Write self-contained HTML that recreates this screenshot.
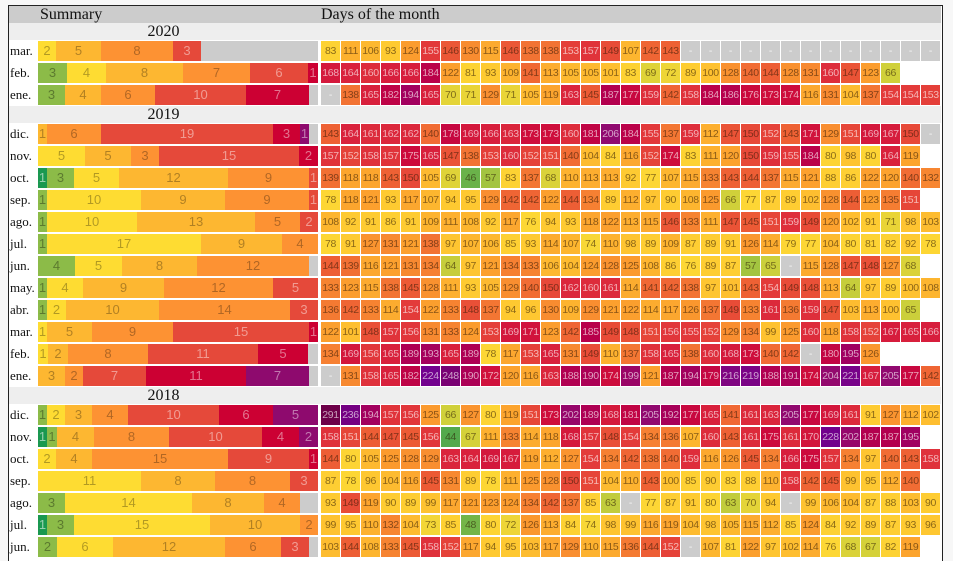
<!DOCTYPE html>
<html><head><meta charset="utf-8">
<style>
html,body{margin:0;padding:0;background:#f7f7f7;width:953px;height:561px;overflow:hidden;position:relative;font-family:"Liberation Sans",sans-serif}
#box{position:absolute;left:8px;top:5px;width:933px;height:560px;background:#fff;border-left:1px solid #222;border-top:1px solid #222;border-right:1px solid #222}
.a{position:absolute;box-sizing:border-box}
.c{width:19px;height:20px;font-size:10.5px;line-height:20px;text-align:center;letter-spacing:-0.3px}
.s{height:20px;font-size:13px;line-height:20px;text-align:center;overflow:hidden}
.ser{font-family:"Liberation Serif",serif}
</style></head><body>
<div id="box"></div>
<div id="root"></div>
<script>
var D={
"2020":[
["mar.","83 111 106 93 124 155 146 130 115 146 138 138 153 157 149 107 142 143 - - - - - - - - - - - - -","y2 l5 o8 r3 x13"],
["feb.","168 164 160 166 166 184 122 81 93 109 141 113 105 105 101 83 69 72 89 100 128 140 144 128 131 160 147 123 66","g3 y4 l8 o7 r6 c1"],
["ene.","- 138 165 182 194 165 70 71 129 71 105 119 163 145 187 177 159 142 158 184 186 176 173 174 116 131 104 137 154 154 153","g3 l4 o6 r10 c7 x1"]],
"2019":[
["dic.","143 164 161 162 162 140 178 169 166 163 173 173 160 181 206 184 155 137 159 112 147 150 152 143 171 129 151 169 167 150 -","l1 o6 r19 c3 p1 x1"],
["nov.","157 152 158 157 175 165 147 138 153 160 152 151 140 104 84 116 152 174 83 111 120 150 159 155 184 80 98 80 164 119","y5 l5 o3 r15 c2"],
["oct.","139 118 118 143 150 105 69 46 57 83 137 68 110 113 113 92 77 107 115 133 143 144 137 115 121 88 86 122 120 140 132","d1 g3 y5 l12 o9 r1"],
["sep.","78 118 121 93 117 107 94 95 129 142 142 122 144 134 89 112 97 90 108 125 66 77 87 89 102 128 144 123 135 151","g1 y10 l9 o9 r1"],
["ago.","108 92 91 86 91 109 111 108 92 117 76 94 93 118 122 113 115 146 133 111 147 145 151 159 149 120 102 91 71 98 103","g1 y10 l13 o5 r2"],
["jul.","78 91 127 131 121 138 97 107 106 85 93 114 107 74 110 98 89 109 87 89 91 126 114 79 77 104 80 81 82 92 78","g1 y17 l9 o4"],
["jun.","144 139 116 121 131 134 64 97 121 134 133 106 104 124 128 125 108 86 76 89 87 57 65 - 115 128 147 148 127 68","g4 y5 l8 o12 x1"],
["may.","133 123 115 138 145 128 111 93 105 129 140 150 162 160 161 114 141 142 138 97 101 143 154 149 148 113 64 97 89 100 108","g1 y4 l9 o12 r5"],
["abr.","136 142 133 114 154 122 133 148 137 94 96 130 109 129 121 122 114 117 126 137 149 133 161 136 159 147 103 113 100 65","g1 y2 l10 o14 r3"],
["mar.","122 101 148 157 156 131 133 124 153 169 171 123 142 185 149 148 151 156 155 152 129 134 99 125 160 118 158 152 167 165 166","y1 l5 o9 r15 c1"],
["feb.","134 169 156 165 189 193 165 189 78 117 153 165 131 149 110 137 158 165 138 160 168 173 140 142 - 180 195 126","y1 l2 o8 r11 c5 x1"],
["ene.","- 131 158 165 182 224 248 190 172 120 116 163 188 190 174 199 121 187 194 179 216 219 188 191 174 204 221 167 205 177 142","l3 o2 r7 c11 p7 x1"]],
"2018":[
["dic.","291 236 194 157 156 125 66 127 80 119 151 173 202 189 168 181 205 192 177 165 141 161 163 205 177 169 161 91 127 112 102","g1 y2 l3 o4 r10 c6 p5"],
["nov.","158 151 144 147 145 156 44 67 111 133 114 118 168 157 148 154 134 136 107 160 143 161 175 161 170 228 202 187 187 195","d1 g1 l4 o8 r10 c4 p2"],
["oct.","144 80 105 125 128 129 163 164 169 167 119 112 127 154 134 142 138 140 159 116 126 145 134 166 175 157 134 97 140 143 158","y2 l4 o15 r9 c1"],
["sep.","87 78 96 104 116 145 131 89 78 111 125 128 150 151 104 110 143 100 85 90 83 88 110 158 142 145 99 95 112 140","y11 l8 o8 r3"],
["ago.","93 149 119 90 89 99 117 121 123 124 134 142 137 85 63 - 77 87 91 80 63 70 94 - 99 106 104 87 88 103 90","g3 y14 l8 o4 x2"],
["jul.","99 95 110 132 104 73 85 48 80 72 126 113 84 74 98 99 116 119 104 98 105 115 112 85 124 84 92 89 87 93 96","d1 g3 y15 l10 o2"],
["jun.","103 144 108 133 145 158 152 117 94 95 103 117 129 110 115 136 144 152 - 107 81 122 97 102 114 76 68 67 82 119","g2 y6 l12 o6 r3 x1"]]
};
var stops=[[40,[40,150,80]],[46,[106,178,74]],[57,[163,196,64]],[66,[208,208,58]],[75,[253,216,53]],[95,[254,200,49]],[110,[253,178,47]],[125,[251,154,46]],[135,[245,125,50]],[145,[236,90,53]],[155,[226,56,58]],[165,[216,32,60]],[175,[204,10,60]],[185,[184,0,74]],[195,[160,0,96]],[206,[144,10,112]],[225,[112,0,144]],[250,[122,0,112]],[300,[106,0,64]]];
function col(v){if(v<=stops[0][0])return 'rgb('+stops[0][1]+')';for(var i=1;i<stops.length;i++){if(v<=stops[i][0]){var a=stops[i-1],b=stops[i],t=(v-a[0])/(b[0]-a[0]);var c=a[1].map(function(x,k){return Math.round(x+(b[1][k]-x)*t)});return 'rgb('+c+')';}}return 'rgb('+stops[stops.length-1][1]+')';}
var cat={d:['#1a9850','rgba(255,255,255,.55)'],g:['#8cbb48','rgba(0,0,0,.35)'],y:['#fedc32','rgba(0,0,0,.3)'],l:['#fdb731','rgba(0,0,0,.3)'],o:['#fd9233','rgba(0,0,0,.3)'],r:['#e5493a','rgba(255,255,255,.45)'],c:['#cc0033','rgba(255,255,255,.45)'],p:['#8e0a6e','rgba(255,255,255,.45)'],x:['#ccc','rgba(0,0,0,0)']};
var h='';
function add(s){h+=s;}
add('<div class="a ser" style="left:9px;top:6px;width:932px;height:17px;background:#ccc"></div>');
add('<div class="a ser" style="left:40px;top:5px;font-size:16px;line-height:19px;color:#111">Summary</div>');
add('<div class="a ser" style="left:321px;top:5px;font-size:16px;line-height:19px;color:#111">Days of the month</div>');
var y=23;
["2020","2019","2018"].forEach(function(yr){
 add('<div class="a" style="left:9px;top:'+y+'px;width:932px;height:17px;background:#eee"></div>');
 add('<div class="a ser" style="left:9px;top:'+y+'px;width:309px;height:17px;text-align:center;font-size:16px;line-height:18px;color:#111">'+yr+'</div>');
 y+=17;
 D[yr].forEach(function(r){
  var top=y+1;
  add('<div class="a ser" style="left:10px;top:'+top+'px;font-size:13px;line-height:20px;color:#111">'+r[0]+'</div>');
  var vals=r[1].split(' ');var segs=r[2].split(' ');
  var days=vals.length;var x=38,acc=0;
  segs.forEach(function(s){var k=s[0],n=+s.slice(1);var x0=38+Math.round(acc/days*280);acc+=n;var x1=38+Math.round(acc/days*280);
   add('<div class="a s" style="left:'+x0+'px;top:'+top+'px;width:'+(x1-x0)+'px;background:'+cat[k][0]+';color:'+cat[k][1]+'">'+(k=='x'?'':n)+'</div>');});
  vals.forEach(function(v,i){var lx=321+i*20;
   if(v=='-'){add('<div class="a c" style="left:'+lx+'px;top:'+top+'px;background:#ccc;color:rgba(255,255,255,.8)">-</div>');}
   else{var n=+v;add('<div class="a c" style="left:'+lx+'px;top:'+top+'px;background:'+col(n)+';color:'+(n>=151?'rgba(255,255,255,.62)':'rgba(40,20,0,.55)')+'">'+v+'</div>');}
  });
  y+=22;
 });
});
document.getElementById('root').innerHTML=h;
</script>
</body></html>
